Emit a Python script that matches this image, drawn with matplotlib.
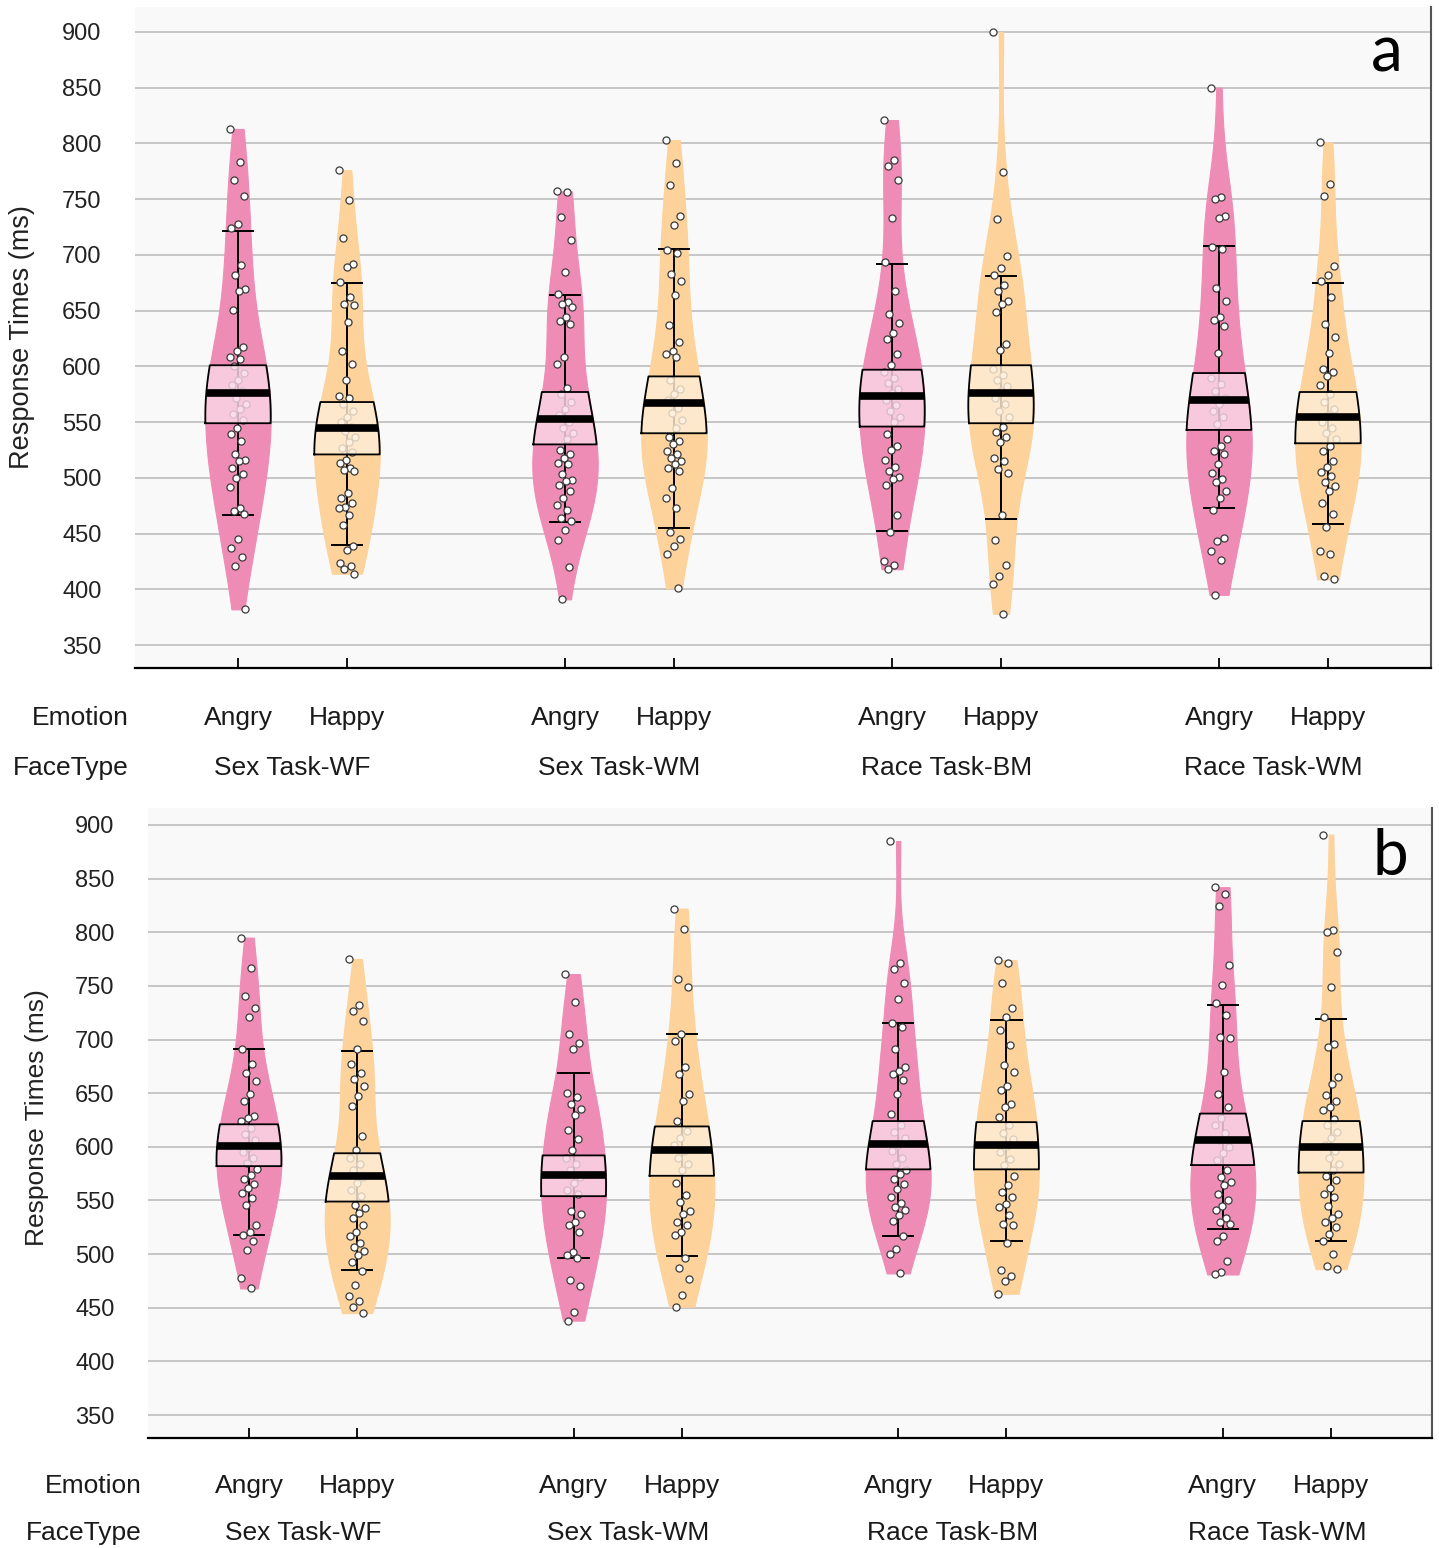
"""
Violin plots of response times, panels a and b
"""

import matplotlib.pyplot as plt
import numpy as np
from matplotlib.transforms import blended_transform_factory

plt.rcParams['font.family'] = ['Liberation Sans', 'DejaVu Sans']

emotions = ['Angry', 'Happy'] * 4
face_types = ['Sex Task-WF', 'Sex Task-WM', 'Race Task-BM', 'Race Task-WM']
positions = [0, 1, 3, 4, 6, 7, 9, 10]

# panel a, one list per violin (ms)
a_wf_angry = [813, 783, 767, 753, 728, 724, 691, 682, 669, 668, 651, 617, 614, 608, 607, 600, 594, 588,
              583, 578, 572, 566, 562, 557, 552, 545, 539, 533, 521, 516, 515, 509, 503, 500, 492, 473,
              470, 468, 445, 437, 429, 421, 382]
a_wf_happy = [776, 749, 715, 692, 689, 676, 662, 656, 655, 640, 614, 602, 588, 573, 572, 566, 560, 555,
              550, 546, 542, 537, 532, 527, 523, 516, 513, 509, 507, 506, 486, 482, 477, 474, 473, 467,
              458, 439, 435, 424, 421, 418, 414]
a_wm_angry = [757, 756, 734, 713, 685, 665, 658, 656, 653, 644, 641, 638, 608, 602, 581, 575, 568, 562,
              556, 550, 545, 540, 535, 525, 521, 518, 513, 512, 503, 498, 497, 494, 488, 482, 476, 471,
              464, 461, 453, 444, 420, 391]
a_wm_happy = [803, 782, 763, 735, 727, 704, 702, 683, 677, 664, 637, 622, 614, 611, 608, 588, 580, 575,
              570, 563, 558, 552, 545, 537, 533, 530, 524, 521, 518, 515, 512, 509, 506, 491, 482, 473,
              451, 445, 439, 432, 401]
a_bm_angry = [821, 785, 780, 767, 733, 694, 668, 647, 639, 630, 625, 611, 601, 595, 590, 585, 580, 576,
              570, 565, 560, 555, 550, 539, 529, 525, 516, 510, 506, 501, 499, 494, 467, 451, 425, 422, 418]
a_bm_happy = [900, 774, 732, 699, 688, 682, 673, 668, 659, 656, 649, 620, 615, 598, 592, 588, 582, 578,
              572, 566, 560, 555, 546, 541, 537, 532, 518, 515, 508, 504, 467, 444, 422, 412, 405, 378]
a_rwm_angry = [850, 752, 750, 735, 733, 707, 705, 670, 659, 644, 642, 636, 612, 590, 584, 578, 572, 566,
               560, 555, 548, 535, 529, 524, 521, 512, 504, 499, 496, 488, 482, 471, 446, 443, 434, 426, 395]
a_rwm_happy = [801, 764, 753, 690, 682, 677, 662, 638, 626, 612, 598, 595, 591, 583, 575, 568, 562, 556,
               550, 545, 540, 535, 529, 524, 515, 510, 505, 502, 496, 493, 488, 477, 468, 456, 434, 432,
               412, 409]

# panel b
b_wf_angry = [795, 767, 741, 729, 721, 691, 677, 669, 661, 649, 643, 629, 627, 624, 618, 612, 606, 600,
              595, 590, 585, 579, 574, 570, 565, 562, 557, 552, 546, 527, 521, 518, 512, 504, 478, 468]
b_wf_happy = [775, 732, 727, 717, 691, 677, 669, 663, 657, 647, 638, 610, 597, 590, 584, 578, 572, 566,
              560, 554, 546, 543, 538, 534, 527, 521, 517, 510, 507, 503, 499, 493, 484, 471, 461, 456,
              451, 445]
b_wm_angry = [761, 735, 705, 697, 691, 650, 646, 640, 635, 630, 616, 607, 597, 590, 584, 578, 572, 566,
              560, 556, 540, 537, 530, 527, 521, 502, 499, 496, 476, 470, 446, 438]
b_wm_happy = [822, 803, 756, 749, 705, 699, 674, 668, 649, 643, 624, 615, 608, 602, 596, 590, 584, 578,
              566, 555, 549, 540, 537, 530, 527, 521, 518, 496, 487, 477, 462, 451]
b_bm_angry = [885, 771, 766, 753, 738, 715, 712, 691, 674, 671, 668, 662, 649, 631, 620, 614, 608, 602,
              596, 590, 584, 578, 575, 570, 565, 561, 553, 548, 544, 541, 536, 531, 517, 505, 500, 482]
b_bm_happy = [774, 771, 753, 729, 721, 709, 695, 676, 670, 657, 653, 640, 637, 628, 620, 613, 607, 601,
              595, 589, 583, 573, 564, 558, 553, 547, 544, 536, 528, 527, 510, 485, 480, 475, 463]
b_rwm_angry = [842, 836, 824, 769, 751, 734, 723, 702, 701, 670, 649, 637, 627, 620, 613, 606, 600, 594,
               588, 578, 572, 567, 564, 556, 550, 545, 541, 534, 530, 528, 517, 512, 494, 483, 481]
b_rwm_happy = [891, 802, 800, 782, 749, 721, 696, 693, 665, 659, 648, 643, 637, 634, 626, 620, 614, 608,
               602, 596, 590, 584, 578, 573, 569, 562, 556, 553, 545, 537, 534, 530, 525, 519, 512, 500,
               489, 486]

# box / whisker values
a_q1 = [549, 521, 530, 540, 546, 549, 543, 531]
a_med = [576, 545, 553, 567, 573, 576, 570, 555]
a_q3 = [601, 568, 577, 591, 597, 601, 594, 577]
a_lo = [467, 440, 460, 455, 452, 463, 473, 459]
a_hi = [721, 675, 664, 705, 692, 681, 708, 675]

b_q1 = [582, 549, 554, 573, 579, 579, 583, 576]
b_med = [601, 573, 574, 597, 603, 602, 606, 600]
b_q3 = [621, 594, 592, 619, 624, 623, 631, 624]
b_lo = [518, 485, 496, 498, 517, 512, 523, 512]
b_hi = [691, 689, 669, 705, 715, 718, 732, 719]

violin_colors = ['#ef8cb6', '#fdd29b']
box_colors = ['#fbd6e6', '#feedd6']

W, H = 1439, 1548


def draw_panel(ax, data, q1, med, q3, lo, hi, ylim, xlim):
    ax.set_facecolor('#f9f9f9')
    ax.set_xlim(*xlim)
    ax.set_ylim(*ylim)
    ax.set_yticks(range(350, 901, 50))
    ax.grid(axis='y', color='#c6c6c6', lw=1.4, zorder=0)
    ax.set_axisbelow(True)

    parts = ax.violinplot(data, positions=positions, widths=0.6, bw_method=0.42,
                          showextrema=False, showmeans=False, showmedians=False)
    for i, body in enumerate(parts['bodies']):
        c = violin_colors[i % 2]
        body.set_facecolor(c)
        body.set_edgecolor(c)
        body.set_alpha(1)
        body.set_linewidth(0.8)
        body.set_zorder(2)

    for i, pos in enumerate(positions):
        verts = parts['bodies'][i].get_paths()[0].vertices
        right = verts[verts[:, 0] >= pos]
        order = np.argsort(right[:, 1])
        yy, hw_all = right[order, 1], right[order, 0] - pos

        # whiskers
        ax.vlines(pos, lo[i], hi[i], color='black', lw=1.4, zorder=3)
        ax.hlines([lo[i], hi[i]], pos - 0.15, pos + 0.15, color='black', lw=1.4, zorder=3)

        # points with a fixed jitter
        vals = np.array(data[i])
        jit = ((np.arange(len(vals)) * 0.618) % 1 - 0.5) * 0.15
        ax.scatter(pos + jit, vals, s=26, facecolor='white', edgecolor='#3a3a3a',
                   linewidth=0.9, zorder=3.5)

        # IQR box that follows the violin outline
        ys = np.linspace(q1[i], q3[i], 60)
        hw = np.interp(ys, yy, hw_all)
        ax.fill_betweenx(ys, pos - hw, pos + hw, facecolor=box_colors[i % 2], alpha=0.82,
                         edgecolor='none', zorder=4)
        ax.plot(np.r_[pos - hw, (pos + hw)[::-1], pos - hw[0]],
                np.r_[ys, ys[::-1], ys[0]], color='black', lw=1.3, zorder=5)
        hm = np.interp(med[i], yy, hw_all)
        ax.plot([pos - hm, pos + hm], [med[i], med[i]], color='black', lw=5.5,
                solid_capstyle='butt', zorder=6)

    ax.set_xticks(positions)
    ax.set_xticklabels([])
    ax.tick_params(axis='x', direction='in', length=7, width=1.3, color='black')
    ax.tick_params(axis='y', length=0, pad=24, labelsize=17, labelcolor='#222222')
    for s in ['top', 'left']:
        ax.spines[s].set_visible(False)
    ax.spines['right'].set_color('#555555')
    ax.spines['right'].set_linewidth(1.5)
    ax.spines['bottom'].set_color('black')
    ax.spines['bottom'].set_linewidth(1.6)


def draw_labels(ax, y1, y2):
    tr = blended_transform_factory(ax.transData, ax.transAxes)
    for pos, lab in zip(positions, emotions):
        ax.text(pos, y1, lab, transform=tr, ha='center', va='center', fontsize=19, color='#1a1a1a')
    for k, lab in enumerate(face_types):
        ax.text(positions[2 * k] + 0.5, y2, lab, transform=tr, ha='center', va='center',
                fontsize=19, color='#1a1a1a')
    ax.text(-0.005, y1, 'Emotion', transform=ax.transAxes, ha='right', va='center',
            fontsize=19, color='#1a1a1a')
    ax.text(-0.005, y2, 'FaceType', transform=ax.transAxes, ha='right', va='center',
            fontsize=19, color='#1a1a1a')


fig = plt.figure(figsize=(W / 100, H / 100), dpi=100)

# panel a
ax1 = fig.add_axes([135 / W, 1 - 668 / H, (1431 - 135) / W, (668 - 7) / H])
draw_panel(ax1, [a_wf_angry, a_wf_happy, a_wm_angry, a_wm_happy,
                 a_bm_angry, a_bm_happy, a_rwm_angry, a_rwm_happy],
           a_q1, a_med, a_q3, a_lo, a_hi, (329.4, 922.4), (-0.945, 10.945))
draw_labels(ax1, -0.0756, -0.1513)

# panel b
ax2 = fig.add_axes([148 / W, 1 - 1438 / H, (1432 - 148) / W, (1438 - 808) / H])
draw_panel(ax2, [b_wf_angry, b_wf_happy, b_wm_angry, b_wm_happy,
                 b_bm_angry, b_bm_happy, b_rwm_angry, b_rwm_happy],
           b_q1, b_med, b_q3, b_lo, b_hi, (328.6, 915.8), (-0.933, 10.933))
draw_labels(ax2, -0.0762, -0.1508)

fig.text(22 / W, 1 - 337 / H, 'Response Times (ms)', rotation=90, ha='center', va='center',
         fontsize=19.5, color='#222222')
fig.text(37 / W, 1 - 1118 / H, 'Response Times (ms)', rotation=90, ha='center', va='center',
         fontsize=19, color='#222222')

fig.text(1387 / W, 1 - 72 / H, 'a', ha='center', va='baseline', fontsize=46,
         family=['Lato', 'DejaVu Sans'], color='black')
fig.text(1390 / W, 1 - 875 / H, 'b', ha='center', va='baseline', fontsize=46,
         family=['Lato', 'DejaVu Sans'], color='black')

fig.savefig('out.png', dpi=100)
